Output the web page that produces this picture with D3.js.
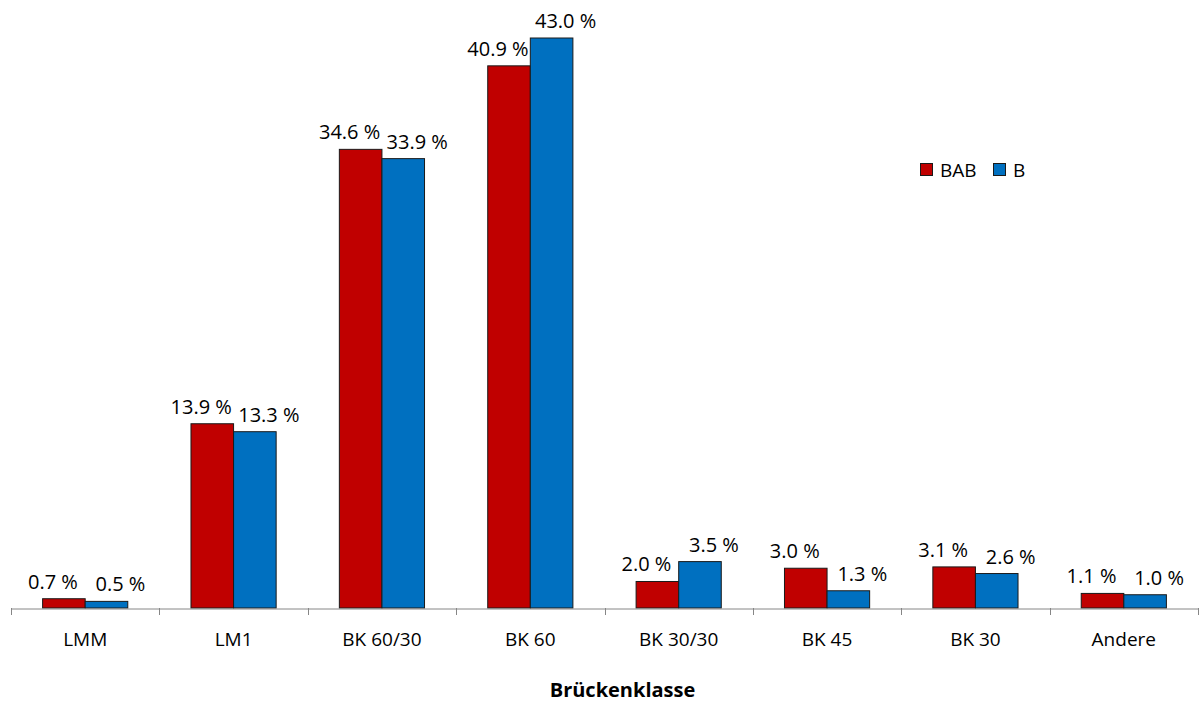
<!DOCTYPE html>
<html>
<head>
<meta charset="utf-8">
<script src="https://cdn.jsdelivr.net/npm/d3@7"></script>
<style>
  body { margin: 0; background: #fff; }
  text { font-family: "Open Sans", sans-serif; fill: #000; }
</style>
</head>
<body>
<div id="container"></div>
<script>
// categories and values (percent)
const categories = ["LMM", "LM1", "BK 60/30", "BK 60", "BK 30/30", "BK 45", "BK 30", "Andere"];
const seriesNames = ["BAB", "B"];
const babValues = [0.7, 13.9, 34.6, 40.9, 2.0, 3.0, 3.1, 1.1];
const bValues = [0.5, 13.3, 33.9, 43.0, 3.5, 1.3, 2.6, 1.0];
const colors = ["#C00000", "#0070C0"];

const width = 1200;
const height = 704;
const baseY = 608;
const fontSize = "19px";
// labels get pushed apart a little, like the original
const labelShift = [-11, 14];

const data = categories.map((c, i) => ({cat: c, values: [babValues[i], bValues[i]]}));

const xScale = d3.scaleBand()
  .domain(categories)
  .range([11, 1198])
  .paddingInner(0)
  .paddingOuter(0);

const xInner = d3.scaleBand()
  .domain(seriesNames)
  .range([xScale.bandwidth() * 0.213, xScale.bandwidth() * 0.787]);

const yScale = d3.scaleLinear()
  .domain([0, 43])
  .range([baseY, 38]);

const svg = d3.select("#container")
  .append("svg")
  .attr("width", width)
  .attr("height", height);

// bars
const groups = svg.selectAll("g.cat")
  .data(data)
  .join("g")
  .attr("class", "cat")
  .attr("transform", d => `translate(${xScale(d.cat)},0)`);

groups.selectAll("rect")
  .data(d => d.values.map((v, i) => ({name: seriesNames[i], v: v, i: i})))
  .join("rect")
  .attr("x", d => xInner(d.name))
  .attr("y", d => yScale(d.v))
  .attr("width", xInner.bandwidth())
  .attr("height", d => baseY - yScale(d.v))
  .attr("fill", d => colors[d.i])
  .attr("stroke", "#1a1a1a")
  .attr("stroke-width", 1);

// value labels
groups.selectAll("text.val")
  .data(d => d.values.map((v, i) => ({name: seriesNames[i], v: v, i: i})))
  .join("text")
  .attr("class", "val")
  .attr("x", d => xInner(d.name) + xInner.bandwidth() / 2 + labelShift[d.i])
  .attr("y", d => yScale(d.v) - 10)
  .attr("text-anchor", "middle")
  .style("font-size", "20px")
  .text(d => d.v.toFixed(1) + " %");

// x axis
const xAxis = g => g
  .call(d3.axisBottom(xScale).tickSize(0))
  .call(g => g.select(".domain").attr("stroke", "#868686"))
  .call(g => g.selectAll(".tick text")
    .attr("y", 37).attr("dy", null)
    .attr("font-family", null)
    .style("font-size", fontSize));

svg.append("g")
  .attr("transform", `translate(0,${baseY + 0.5})`)
  .call(xAxis);

// boundary tick marks
const edges = categories.map(c => xScale(c)).concat([xScale.range()[1]]);
svg.append("g")
  .selectAll("line")
  .data(edges)
  .join("line")
  .attr("x1", d => Math.round(d) + 0.5)
  .attr("x2", d => Math.round(d) + 0.5)
  .attr("y1", baseY)
  .attr("y2", baseY + 7)
  .attr("stroke", "#868686");

// axis title
svg.append("text")
  .attr("x", (xScale.range()[0] + xScale.range()[1]) / 2 + 18)
  .attr("y", 697)
  .attr("text-anchor", "middle")
  .style("font-size", "20px")
  .style("font-weight", "bold")
  .text("Brückenklasse");

// legend
const legend = svg.append("g").attr("transform", "translate(920,163)");
const legendX = [0, 73];
seriesNames.forEach((name, i) => {
  legend.append("rect")
    .attr("x", legendX[i] + 0.5)
    .attr("y", 0.5)
    .attr("width", 12)
    .attr("height", 12)
    .attr("fill", colors[i])
    .attr("stroke", "#1a1a1a");
  legend.append("text")
    .attr("x", legendX[i] + 20)
    .attr("y", 14)
    .style("font-size", fontSize)
    .text(name);
});
</script>
</body>
</html>
